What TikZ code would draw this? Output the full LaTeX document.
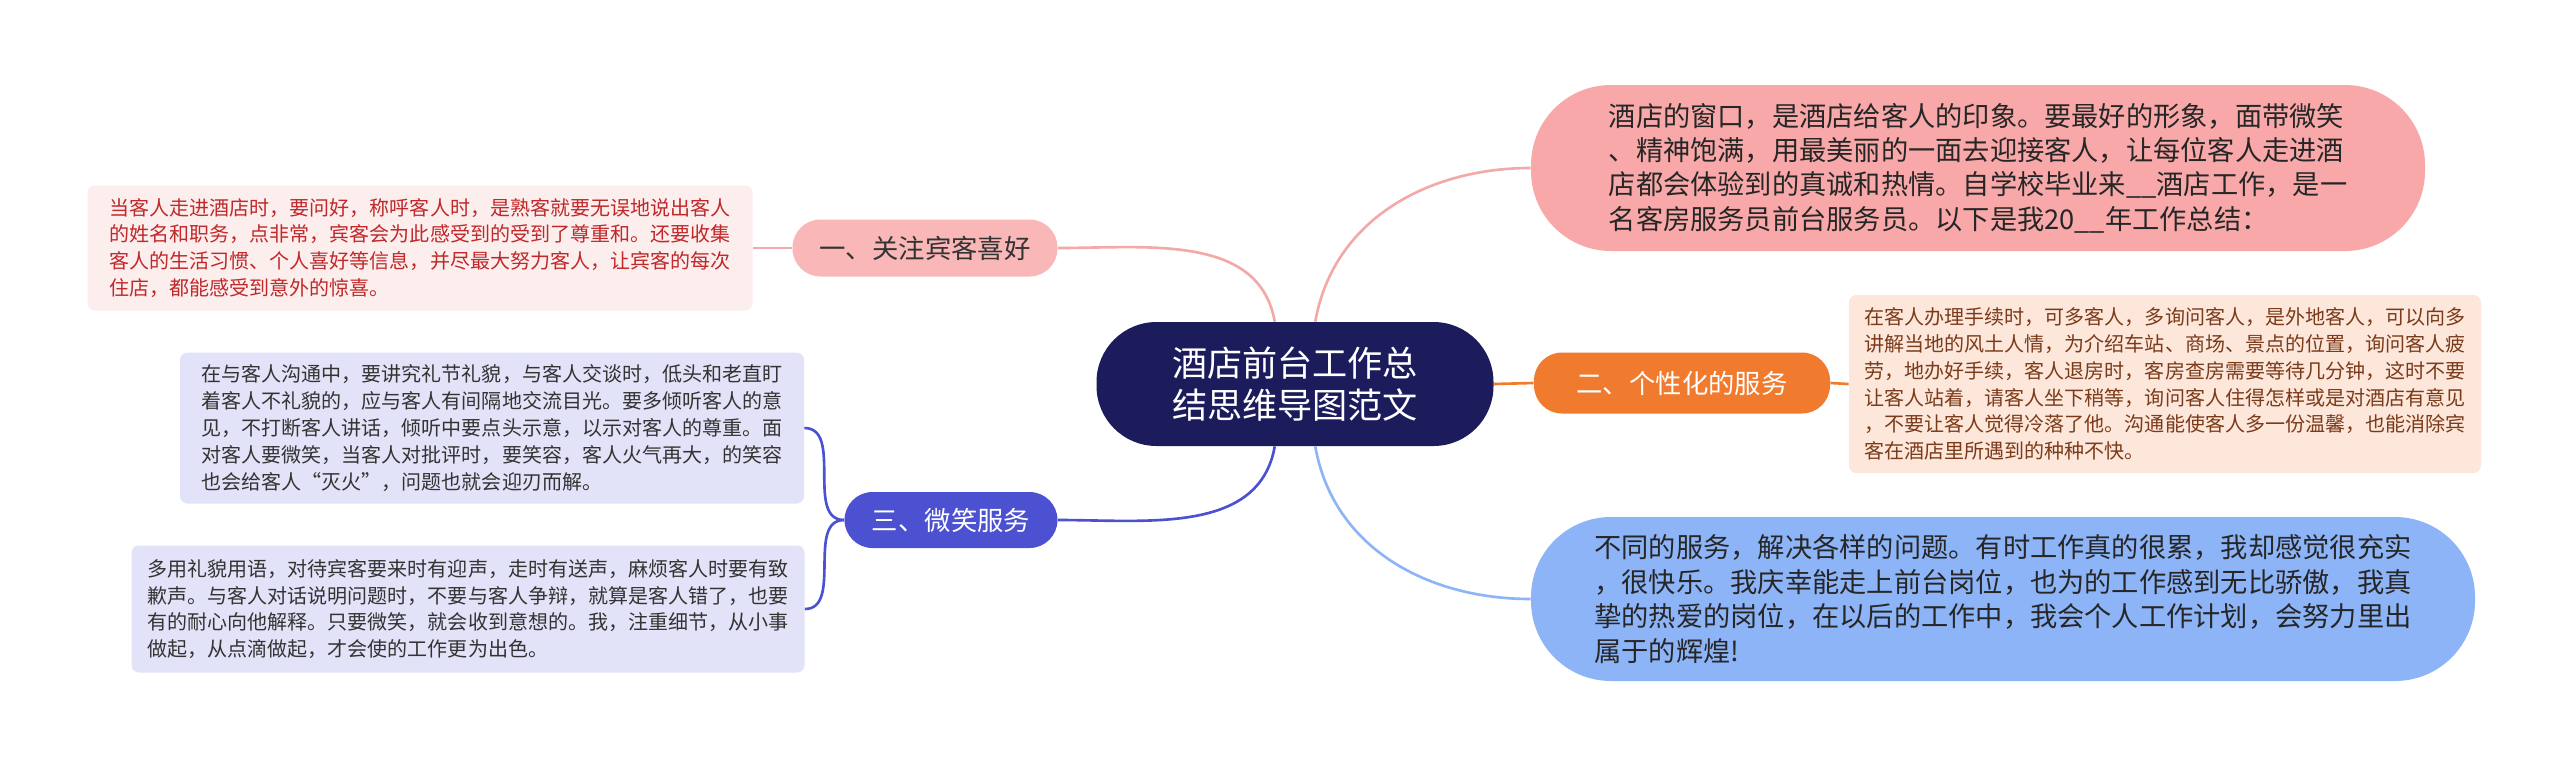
\documentclass[tikz,border=0pt]{standalone}
\usepackage{fontspec}
\setmainfont{Noto Sans CJK SC}
\usetikzlibrary{positioning}
\definecolor{navy}{HTML}{1C1C5C}
\definecolor{pinkmain}{HTML}{F8A8A8}
\definecolor{orangemain}{HTML}{F07B2E}
\definecolor{bluemain}{HTML}{8DB4F7}
\definecolor{pinkone}{HTML}{F9B7B7}
\definecolor{pinkdet}{HTML}{FDEEEE}
\definecolor{reddet}{HTML}{C0282A}
\definecolor{orangedet}{HTML}{FDE6DA}
\definecolor{browndet}{HTML}{7A3B1A}
\definecolor{bluethree}{HTML}{4B51D0}
\definecolor{lavdet}{HTML}{E2E2F8}
\definecolor{linepink}{HTML}{F4A9A9}
\definecolor{lineblue}{HTML}{8DB4F7}
\tikzset{
  bigbox/.style={rectangle,rounded corners=80*0.02cm,align=left,inner sep=0pt,font=\fontsize{15.5}{19.6}\selectfont,text=black!85},
  branch/.style={rectangle,rounded corners=28*0.02cm,align=center,inner sep=0pt,font=\fontsize{15}{18}\selectfont},
  detbox/.style={rectangle,rounded corners=0.15cm,align=left,inner sep=0pt,font=\fontsize{11.4}{15.3}\selectfont},
  link/.style={line width=1.5pt}
}
\begin{document}
\begin{tikzpicture}[x=0.02cm,y=-0.02cm]
\useasboundingbox[fill=white] (0,0) rectangle (2560,765);
% centre
\node at (1295,384)[rectangle,rounded corners=60*0.02cm,fill=navy,text=white,minimum width=397*0.02cm,minimum height=124*0.02cm,align=center,font=\fontsize{20}{24}\selectfont](ctr){酒店前台工作总\\结思维导图范文};
% right side
\node at (1978,168)[bigbox,fill=pinkmain,minimum width=894*0.02cm,minimum height=166*0.02cm](tr){酒店的窗口，是酒店给客人的印象。要最好的形象，面带微笑\\、精神饱满，用最美丽的一面去迎接客人，让每位客人走进酒\\店都会体验到的真诚和热情。自学校毕业来\_\_酒店工作，是一\\名客房服务员前台服务员。以下是我20\_\_年工作总结：};
\node at (1682,383)[branch,fill=orangemain,text=white,minimum width=296*0.02cm,minimum height=61*0.02cm](two){二、个性化的服务};
\node at (2165,384)[detbox,fill=orangedet,text=browndet,minimum width=632*0.02cm,minimum height=178*0.02cm](twodet){在客人办理手续时，可多客人，多询问客人，是外地客人，可以向多\\讲解当地的风土人情，为介绍车站、商场、景点的位置，询问客人疲\\劳，地办好手续，客人退房时，客房查房需要等待几分钟，这时不要\\让客人站着，请客人坐下稍等，询问客人住得怎样或是对酒店有意见\\，不要让客人觉得冷落了他。沟通能使客人多一份温馨，也能消除宾\\客在酒店里所遇到的种种不快。};
\node at (2003,599)[bigbox,fill=bluemain,minimum width=944*0.02cm,minimum height=164*0.02cm](br){不同的服务，解决各样的问题。有时工作真的很累，我却感觉很充实\\，很快乐。我庆幸能走上前台岗位，也为的工作感到无比骄傲，我真\\挚的热爱的岗位，在以后的工作中，我会个人工作计划，会努力里出\\属于的辉煌!};
% left side
\node at (925,248)[branch,fill=pinkone,text=black!80,minimum width=265*0.02cm,minimum height=57*0.02cm](one){一、关注宾客喜好};
\node at (420,248)[detbox,fill=pinkdet,text=reddet,minimum width=665*0.02cm,minimum height=125*0.02cm](onedet){当客人走进酒店时，要问好，称呼客人时，是熟客就要无误地说出客人\\的姓名和职务，点非常，宾客会为此感受到的受到了尊重和。还要收集\\客人的生活习惯、个人喜好等信息，并尽最大努力客人，让宾客的每次\\住店，都能感受到意外的惊喜。};
\node at (951,520)[branch,fill=bluethree,text=white,minimum width=213*0.02cm,minimum height=56*0.02cm](three){三、微笑服务};
\node at (492,428)[detbox,fill=lavdet,text=black!80,minimum width=624*0.02cm,minimum height=151*0.02cm](threeup){在与客人沟通中，要讲究礼节礼貌，与客人交谈时，低头和老直盯\\着客人不礼貌的，应与客人有间隔地交流目光。要多倾听客人的意\\见，不打断客人讲话，倾听中要点头示意，以示对客人的尊重。面\\对客人要微笑，当客人对批评时，要笑容，客人火气再大，的笑容\\也会给客人“灭火”，问题也就会迎刃而解。};
\node at (468,609)[detbox,fill=lavdet,text=black!80,minimum width=673*0.02cm,minimum height=127*0.02cm](threelow){多用礼貌用语，对待宾客要来时有迎声，走时有送声，麻烦客人时要有致\\歉声。与客人对话说明问题时，不要与客人争辩，就算是客人错了，也要\\有的耐心向他解释。只要微笑，就会收到意想的。我，注重细节，从小事\\做起，从点滴做起，才会使的工作更为出色。};
% connectors
\draw[link,linepink] (ctr.72) to[out=80,in=180] (tr.west);
\draw[link,orangemain] (ctr.east) -- (two.west);
\draw[link,lineblue] (ctr.-72) to[out=-80,in=180] (br.west);
\draw[link,linepink] (ctr.108) to[out=100,in=0] (one.east);
\draw[link,bluethree] (ctr.-108) to[out=-100,in=0] (three.east);
\draw[link,linepink] (one.west) -- (onedet.east);
\draw[link,orangemain] (two.east) -- (twodet.west);
\draw[link,bluethree] (three.west) to[out=180,in=0] (threeup.east);
\draw[link,bluethree] (three.west) to[out=180,in=0] (threelow.east);
\end{tikzpicture}
\end{document}
